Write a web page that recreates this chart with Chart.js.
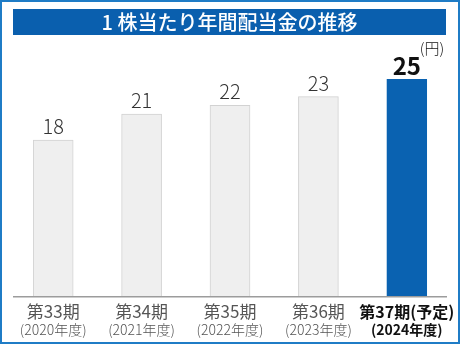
<!DOCTYPE html>
<html lang="ja">
<head>
<meta charset="utf-8">
<script src="https://cdn.jsdelivr.net/npm/chart.js@4/dist/chart.umd.min.js"></script>
<style>
  html, body { margin: 0; padding: 0; background: #fff; }
  #wrap { position: relative; width: 460px; height: 344px; overflow: hidden; }
  #frame { position: absolute; left: 0; top: 0; width: 460px; height: 344px; box-sizing: border-box;
           border: 2px solid #1f7cc6; pointer-events: none; }
  #title { position: absolute; left: 13px; top: 9px; width: 433px; height: 26px; background: #0a5fae;
           color: #fff; font: 500 20px "Noto Sans CJK JP", sans-serif; line-height: 26px; text-align: center; }
  canvas { position: absolute; left: 0; top: 0; }
</style>
</head>
<body>
<div id="wrap">
  <canvas id="c" width="460" height="344"></canvas>
  <div id="title">1 株当たり年間配当金の推移</div>
  <div id="frame"></div>
</div>
<script>
// Dividend per share by fiscal period (yen)
const periods = ['第33期', '第34期', '第35期', '第36期', '第37期(予定)'];
const years = ['(2020年度)', '(2021年度)', '(2022年度)', '(2023年度)', '(2024年度)'];
const dividends = [18, 21, 22, 23, 25];
const unitLabel = '(円)';
const plannedIndex = 4;

const FONT = '"Noto Sans CJK JP", sans-serif';

const labelsPlugin = {
  id: 'labels',
  afterDatasetsDraw(chart) {
    const ctx = chart.ctx;
    const meta = chart.getDatasetMeta(0);
    const area = chart.chartArea;
    const xScale = chart.scales.x;
    ctx.save();
    // baseline axis
    ctx.strokeStyle = '#9c9c9c';
    ctx.lineWidth = 1.5;
    ctx.beginPath();
    ctx.moveTo(13, area.bottom + 0.75);
    ctx.lineTo(447, area.bottom + 0.75);
    ctx.stroke();

    ctx.textAlign = 'center';
    ctx.textBaseline = 'alphabetic';
    meta.data.forEach((bar, i) => {
      const planned = i === plannedIndex;
      // value above the bar
      if (planned) {
        ctx.font = 'bold 24px ' + FONT;
        ctx.fillStyle = '#111';
        ctx.fillText(String(dividends[i]), bar.x, bar.y - 4);
        ctx.font = '300 15px ' + FONT;
        ctx.textAlign = 'left';
        ctx.fillText(unitLabel, bar.x + 13, bar.y - 25);
        ctx.textAlign = 'center';
      } else {
        ctx.font = '300 20px ' + FONT;
        ctx.fillStyle = '#333';
        ctx.fillText(String(dividends[i]), bar.x, bar.y - 6);
      }
      // category labels
      const x = xScale.getPixelForTick(i);
      ctx.fillStyle = planned ? '#111' : '#555';
      ctx.font = (planned ? 'bold 16px ' : '17px ') + FONT;
      ctx.fillText(periods[i], x, area.bottom + 22);
      ctx.font = (planned ? 'bold 14px ' : '300 14px ') + FONT;
      ctx.fillText(years[i], x, area.bottom + 39);
    });
    ctx.restore();
  }
};

new Chart(document.getElementById('c'), {
  type: 'bar',
  data: {
    labels: periods,
    datasets: [{
      data: dividends,
      backgroundColor: dividends.map((_, i) => i === plannedIndex ? '#0a62b1' : '#efefef'),
      borderColor: dividends.map((_, i) => i === plannedIndex ? '#0a62b1' : '#d2d2d2'),
      borderWidth: 1,
      borderSkipped: 'bottom',
      barThickness: 40
    }]
  },
  options: {
    responsive: false,
    animation: false,
    layout: { padding: { left: 9, right: 9, top: 36, bottom: 48 } },
    plugins: { legend: { display: false }, tooltip: { enabled: false } },
    scales: {
      x: { display: false },
      y: { display: false, min: 0, max: 30 }
    }
  },
  plugins: [labelsPlugin]
});
</script>
</body>
</html>
